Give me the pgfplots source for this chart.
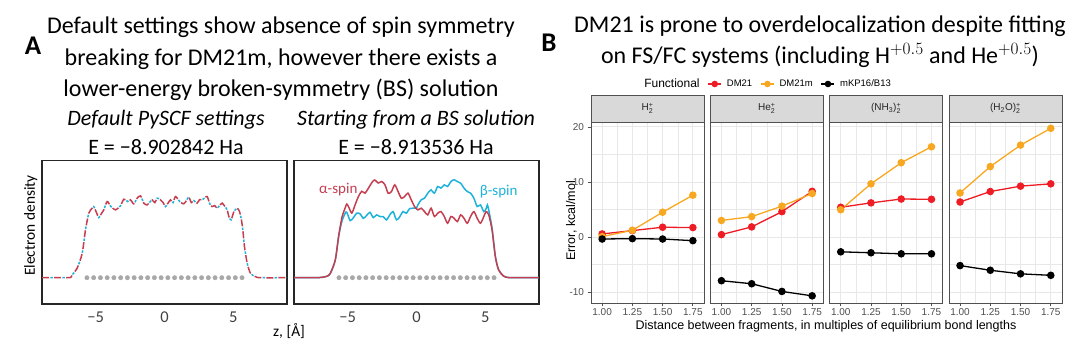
\documentclass[border=0pt]{standalone}
\usepackage{fontspec}
\setmainfont{Carlito}
\newfontfamily\arial{Liberation Sans}
\usepackage{pgfplots}
\usepackage{pgfplotstable}
\pgfplotsset{compat=1.18}

\definecolor{alphared}{RGB}{196,62,80}
\definecolor{betacyan}{RGB}{30,178,218}
\definecolor{dotgray}{RGB}{168,168,168}
\definecolor{ggred}{RGB}{238,28,36}
\definecolor{ggorange}{RGB}{248,168,32}
\definecolor{gridgray}{RGB}{232,232,232}
\definecolor{stripgray}{RGB}{217,217,217}
\definecolor{bordergray}{RGB}{80,80,80}
\definecolor{tickgray}{RGB}{77,77,77}

% ---------- Panel A data ----------
\pgfplotstableread{
z d
-8.9 0
-7.5 0
-6.83 0.003
-6.71 0.036
-6.35 0.125
-5.98 0.325
-5.74 0.636
-5.50 0.858
-5.26 0.925
-5.14 0.947
-4.95 0.87
-4.77 0.80
-4.60 0.85
-4.41 0.903
-4.17 1.014
-3.95 0.96
-3.80 0.93
-3.56 0.903
-3.35 0.93
-3.20 0.956
-2.95 1.045
-2.67 1.014
-2.47 1.036
-2.23 0.983
-1.99 1.058
-1.74 1.089
-1.50 0.992
-1.26 0.969
-1.05 1.01
-0.90 1.036
-0.70 1.00
-0.53 1.058
-0.29 1.036
-0.10 1.00
0.07 0.947
0.25 0.99
0.44 1.036
0.62 1.00
0.80 1.080
1.11 1.014
1.40 0.983
1.60 1.03
1.77 1.072
1.95 1.00
2.13 1.027
2.37 0.992
2.55 1.04
2.73 1.036
2.90 1.06
3.10 1.080
3.30 0.98
3.46 0.947
3.65 0.96
3.82 0.925
4.00 0.96
4.19 0.992
4.38 0.95
4.55 0.903
4.70 0.80
4.84 0.769
4.95 0.83
5.04 0.880
5.28 0.925
5.45 0.88
5.58 0.78
5.70 0.62
5.81 0.414
6.01 0.191
6.25 0.058
6.61 0.014
6.98 0
8.9 0
}\tabSym

\pgfplotstableread{
z d
-8.9 0
-7.5 0
-6.9 0.004
-6.5 0.02
-6.26 0.058
-5.9 0.236
-5.66 0.547
-5.42 0.80
-5.18 0.93
-5.06 0.98
-4.90 0.93
-4.70 0.86
-4.46 0.97
-4.22 1.08
-3.98 1.15
-3.74 1.125
-3.50 1.19
-3.19 1.28
-3.02 1.30
-2.78 1.26
-2.54 1.28
-2.30 1.24
-2.06 1.125
-1.82 1.147
-1.58 1.236
-1.34 1.147
-1.10 1.058
-0.86 1.08
-0.62 1.125
-0.38 1.036
-0.14 0.947
0.10 0.903
0.34 0.925
0.58 0.88
0.82 0.836
1.06 0.925
1.30 0.814
1.54 0.858
1.78 0.88
2.02 0.814
2.26 0.725
2.50 0.814
2.73 0.791
2.97 0.747
3.21 0.836
3.45 0.791
3.69 0.725
3.93 0.814
4.17 0.88
4.41 0.791
4.65 0.725
4.89 0.814
5.06 0.88
5.25 0.836
5.49 0.636
5.73 0.281
5.97 0.103
6.33 0.022
6.69 0.002
7.5 0
8.9 0
}\tabAlpha

\pgfplotstableread{
z d
-8.9 0
-7.5 0
-6.9 0.004
-6.5 0.02
-6.26 0.058
-5.9 0.236
-5.66 0.547
-5.42 0.75
-5.18 0.858
-5.06 0.87
-4.82 0.76
-4.58 0.80
-4.34 0.86
-4.10 0.85
-3.86 0.79
-3.62 0.83
-3.38 0.87
-3.14 0.80
-2.90 0.836
-2.66 0.814
-2.42 0.814
-2.18 0.769
-1.94 0.836
-1.70 0.88
-1.46 0.77
-1.22 0.81
-0.98 0.88
-0.74 0.858
-0.50 0.92
-0.26 0.925
0.00 0.93
0.10 0.969
0.34 1.036
0.58 1.058
0.82 1.125
1.06 1.169
1.30 1.125
1.54 1.214
1.78 1.192
2.02 1.236
2.26 1.214
2.50 1.28
2.73 1.303
2.97 1.28
3.21 1.258
3.45 1.192
3.69 1.147
3.93 1.125
4.17 1.058
4.41 0.947
4.65 0.969
4.89 0.880
5.06 0.92
5.15 0.969
5.25 0.90
5.49 0.66
5.73 0.281
5.97 0.103
6.33 0.022
6.69 0.002
7.5 0
8.9 0
}\tabBeta

\pgfplotstableread{
z d
-5.635 0
-5.145 0
-4.655 0
-4.165 0
-3.675 0
-3.185 0
-2.695 0
-2.205 0
-1.715 0
-1.225 0
-0.735 0
-0.245 0
0.245 0
0.735 0
1.225 0
1.715 0
2.205 0
2.695 0
3.185 0
3.675 0
4.165 0
4.655 0
5.145 0
5.635 0
}\tabAtoms

% ---------- Panel B data ----------
\pgfplotstableread{
x red orange black
1.00 0.55 0.06 -0.37
1.25 1.16 1.22 -0.30
1.50 1.77 4.50 -0.37
1.75 1.71 7.60 -0.67
}\tabHtwo
\pgfplotstableread{
x red orange black
1.00 0.43 3.00 -7.95
1.25 1.83 3.70 -8.50
1.50 4.60 5.60 -9.90
1.75 8.30 7.90 -10.70
}\tabHetwo
\pgfplotstableread{
x red orange black
1.00 5.40 4.95 -2.70
1.25 6.20 9.66 -2.87
1.50 6.90 13.50 -3.06
1.75 6.85 16.40 -3.06
}\tabNH
\pgfplotstableread{
x red orange black
1.00 6.36 8.00 -5.20
1.25 8.26 12.80 -6.05
1.50 9.24 16.70 -6.70
1.75 9.66 19.75 -6.97
}\tabHO

\pgfplotsset{
  densbox/.style={
    anchor=south west, scale only axis, width=245pt, height=143.5pt,
    xmin=-8.9, xmax=8.9, ymin=-0.35, ymax=1.56,
    axis line style={line width=1.6pt, draw=black!85},
    xtick={-5,0,5}, xticklabels={−5,0,5}, ytick=\empty,
    major tick length=0pt,
    xticklabel style={font=\fontsize{16.5}{18}\selectfont, text=black!75, yshift=-4pt},
  },
  ggpanel/.style={
    anchor=south west, scale only axis, width=113pt, height=181pt,
    xmin=0.908, xmax=1.842, ymin=-12, ymax=20.9,
    xtick={1,1.25,1.5,1.75}, xticklabels={1.00,1.25,1.50,1.75},
    minor xtick={1.125,1.375,1.625},
    ytick={-10,0,10,20},
    minor ytick={-5,5,15},
    grid=both,
    major grid style={gridgray, line width=0.9pt},
    minor grid style={gridgray, line width=0.5pt},
    axis line style={bordergray, line width=0.8pt},
    tick style={bordergray, line width=0.8pt},
    tick align=outside, major tick length=3.5pt, minor tick length=0pt,
    xtick pos=bottom, ytick pos=left,
    ticklabel style={font=\arial\fontsize{10}{12}\selectfont, text=tickgray},
    xticklabel style={yshift=1.5pt},
    clip=false,
  },
  withy/.style={yticklabels={-10,0,10,20}},
  noy/.style={yticklabels={,,,}, ytick style={draw=none}},
  sred/.style={color=ggred, line width=1.3pt, mark=*, mark size=3.1pt},
  sorange/.style={color=ggorange, line width=1.3pt, mark=*, mark size=3.1pt},
  sblack/.style={color=black, line width=1.3pt, mark=*, mark size=3.1pt},
}

\newcommand{\smallarial}[1]{\hbox{\arial\fontsize{7}{8}\selectfont #1}}
\newcommand{\strip}[1]{%
  \draw[bordergray, line width=0.8pt, fill=stripgray] (rel axis cs:0,1) rectangle ([yshift=27pt]rel axis cs:1,1);
  \node[font=\arial\fontsize{10}{12}\selectfont, text=black!85] at ([yshift=13.5pt]rel axis cs:0.5,1) {#1};
}

\begin{document}
\begin{tikzpicture}[x=1pt,y=1pt]
\path[use as bounding box] (0,0) rectangle (1080,356);

% ---------------- Panel A ----------------
\node[font=\bfseries\fontsize{27}{30}\selectfont] at (33,310) {A};
\node[font=\fontsize{24}{31.5}\selectfont, align=center] at (281,297) {Default settings show absence of spin symmetry\\breaking for DM21m, however there exists a\\lower-energy broken-symmetry (BS) solution};
\node[font=\itshape\fontsize{22}{26}\selectfont] at (166,236) {Default PySCF settings};
\node[font=\fontsize{22}{26}\selectfont] at (166,209) {E = −8.902842 Ha};
\node[font=\itshape\fontsize{22}{26}\selectfont] at (416,236) {Starting from a BS solution};
\node[font=\fontsize{22}{26}\selectfont] at (416,209) {E = −8.913536 Ha};
\node[font=\fontsize{15.4}{18}\selectfont, rotate=90] at (30.7,130.5) {Electron density};
\node[font=\fontsize{15.4}{18}\selectfont] at (289,25) {z, [Å]};

\begin{axis}[densbox, at={(42pt,52pt)}]
\addplot[only marks, mark=*, mark size=2.2pt, color=dotgray] table[x=z,y=d] {\tabAtoms};
\addplot[alphared, line width=1.5pt, dash pattern=on 7pt off 5pt, smooth, tension=0.45] table[x=z,y=d] {\tabSym};
\addplot[betacyan, line width=1.5pt, dash pattern=on 2.5pt off 9.5pt, dash phase=3.75pt, smooth, tension=0.45] table[x=z,y=d] {\tabSym};
\end{axis}

\begin{axis}[densbox, at={(294pt,52pt)}]
\addplot[only marks, mark=*, mark size=2.2pt, color=dotgray] table[x=z,y=d] {\tabAtoms};
\addplot[betacyan, line width=1.5pt, smooth, tension=0.45] table[x=z,y=d] {\tabBeta};
\addplot[alphared, line width=1.5pt, smooth, tension=0.45] table[x=z,y=d] {\tabAlpha};
\node[font=\fontsize{15}{18}\selectfont, text=alphared] at (axis cs:-5.68,1.17) {α-spin};
\node[font=\fontsize{15}{18}\selectfont, text=betacyan] at (axis cs:5.97,1.14) {β-spin};
\end{axis}

% ---------------- Panel B ----------------
\node[font=\bfseries\fontsize{27}{30}\selectfont] at (549,313) {B};
\node[font=\fontsize{24}{31}\selectfont, align=center] at (820,314) {DM21 is prone to overdelocalization despite fitting\\on FS/FC systems (including $\mathrm{H}^{+0.5}$ and $\mathrm{He}^{+0.5}$)};
\node[font=\arial\fontsize{12.5}{15}\selectfont] at (826,30) {Distance between fragments, in multiples of equilibrium bond lengths};
\node[font=\arial\fontsize{12.5}{15}\selectfont, rotate=90] at (571.5,135) {Error, kcal/mol};

\begin{axis}[ggpanel, withy, at={(591pt,53pt)},
  legend columns=4,
  legend style={at={(1.549,1.21)}, anchor=center, draw=none, fill=none,
    font=\arial\fontsize{9.5}{11}\selectfont, column sep=3pt,
    /tikz/every even column/.append style={column sep=6pt}},
  legend image code/.code={\draw[mark repeat=2,mark phase=2, mark size=2.6pt] plot coordinates {(0pt,0pt) (6.5pt,0pt) (13pt,0pt)};},
]
\addlegendimage{empty legend}
\addlegendentry{\fontsize{12}{14}\selectfont Functional}
\addplot[sred] table[x=x,y=red] {\tabHtwo};
\addlegendentry{DM21}
\addplot[sorange] table[x=x,y=orange] {\tabHtwo};
\addlegendentry{DM21m}
\addplot[sblack] table[x=x,y=black] {\tabHtwo};
\addlegendentry{mKP16/B13}
\strip{H$^{\smallarial{+}}_{\smallarial{2}}$}
\end{axis}

\begin{axis}[ggpanel, noy, at={(710.3pt,53pt)}]
\addplot[sred] table[x=x,y=red] {\tabHetwo};
\addplot[sorange] table[x=x,y=orange] {\tabHetwo};
\addplot[sblack] table[x=x,y=black] {\tabHetwo};
\strip{He$^{\smallarial{+}}_{\smallarial{2}}$}
\end{axis}

\begin{axis}[ggpanel, noy, at={(829.6pt,53pt)}]
\addplot[sred] table[x=x,y=red] {\tabNH};
\addplot[sorange] table[x=x,y=orange] {\tabNH};
\addplot[sblack] table[x=x,y=black] {\tabNH};
\strip{(NH$_{\smallarial{3}}$)$^{\smallarial{+}}_{\smallarial{2}}$}
\end{axis}

\begin{axis}[ggpanel, noy, at={(948.9pt,53pt)}]
\addplot[sred] table[x=x,y=red] {\tabHO};
\addplot[sorange] table[x=x,y=orange] {\tabHO};
\addplot[sblack] table[x=x,y=black] {\tabHO};
\strip{(H$_{\smallarial{2}}$O)$^{\smallarial{+}}_{\smallarial{2}}$}
\end{axis}

\end{tikzpicture}
\end{document}
